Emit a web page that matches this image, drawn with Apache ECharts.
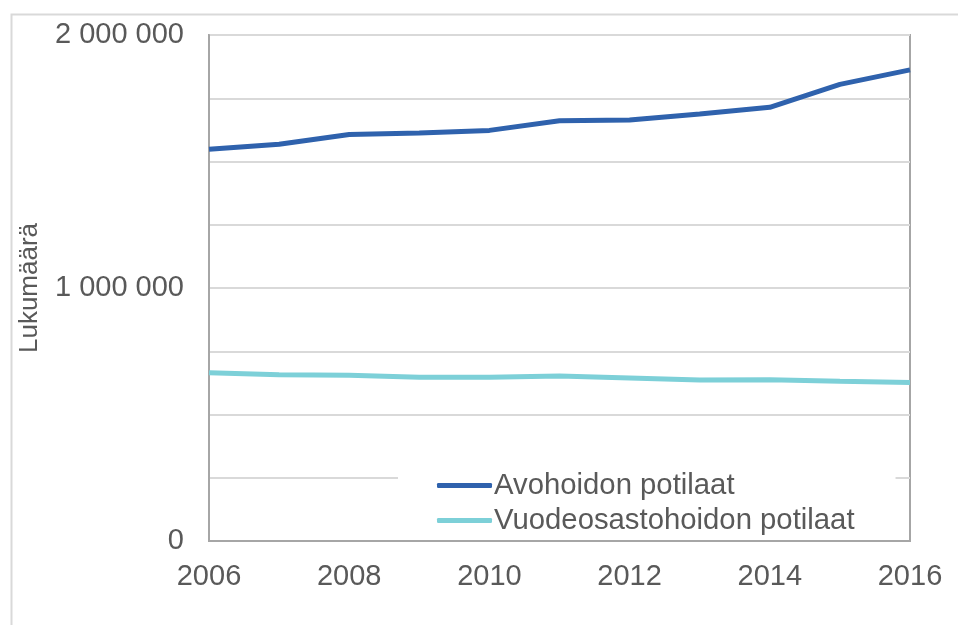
<!DOCTYPE html>
<html>
<head>
<meta charset="utf-8">
<script src="https://cdn.jsdelivr.net/npm/echarts@6/dist/echarts.min.js"></script>
<style>html,body{margin:0;padding:0;background:#fff;}#c{width:958px;height:625px;}</style>
</head>
<body>
<div id="c"></div>
<script>
const years = ['2006','2007','2008','2009','2010','2011','2012','2013','2014','2015','2016'];
const avohoito = [1548000,1568000,1607000,1613000,1623000,1661000,1664000,1688000,1714000,1805000,1862000];
const vuodeosasto = [665000,657000,655000,647000,647000,652000,644000,636000,637000,631000,626000];
const seriesNames = ['Avohoidon potilaat','Vuodeosastohoidon potilaat'];
const yTickLabels = {0:'0', 1000000:'1 000 000', 2000000:'2 000 000'};
const yAxisTitle = 'Lukumäärä';

const font = 'Liberation Sans, Arial, sans-serif';
const chart = echarts.init(document.getElementById('c'));
chart.setOption({
  animation: false,
  backgroundColor: '#fff',
  graphic: [{
    type: 'rect', left: 9, top: 12, z: -10,
    shape: {width: 1100, height: 800},
    style: {fill: 'none', stroke: '#d9d9d9', lineWidth: 2}
  }],
  grid: {left: 209, right: 48, top: 35, bottom: 84, show: true, borderColor: '#a6a6a6', borderWidth: 2, backgroundColor: 'transparent'},
  legend: {
    orient: 'vertical', left: 398, top: 466,
    padding: [5, 41, 5, 39],
    backgroundColor: '#fff',
    itemWidth: 55, itemHeight: 5, itemGap: 6,
    icon: 'roundRect',
    textStyle: {fontFamily: font, fontSize: 29.3, color: '#595959', padding: [0,0,0,-3], lineHeight: 29},
    data: seriesNames
  },
  xAxis: {
    type: 'category', data: years, boundaryGap: false,
    axisLine: {show: true, lineStyle: {color: '#a6a6a6', width: 2}},
    axisTick: {show: false},
    axisLabel: {interval: 1, fontFamily: font, fontSize: 29, color: '#595959', margin: 21},
    splitLine: {show: false}
  },
  yAxis: {
    type: 'value', min: 0, max: 2000000, interval: 250000,
    name: yAxisTitle, nameLocation: 'middle', nameRotate: 90, nameGap: 166,
    nameTextStyle: {fontFamily: font, fontSize: 26, color: '#595959'},
    axisLine: {show: true, lineStyle: {color: '#a6a6a6', width: 2}},
    axisTick: {show: false},
    axisLabel: {fontFamily: font, fontSize: 29, color: '#595959', margin: 25,
      formatter: v => (yTickLabels[v] !== undefined ? yTickLabels[v] : '')},
    splitLine: {show: true, lineStyle: {color: '#d9d9d9', width: 2}}
  },
  series: [
    {name: seriesNames[0], type: 'line', data: avohoito, showSymbol: false, symbol: 'none',
     lineStyle: {color: '#2f62ad', width: 5}, itemStyle: {color: '#2f62ad'}, z: 3},
    {name: seriesNames[1], type: 'line', data: vuodeosasto, showSymbol: false, symbol: 'none',
     lineStyle: {color: '#7dd0d8', width: 5}, itemStyle: {color: '#7dd0d8'}, z: 3}
  ]
});
</script>
</body>
</html>
